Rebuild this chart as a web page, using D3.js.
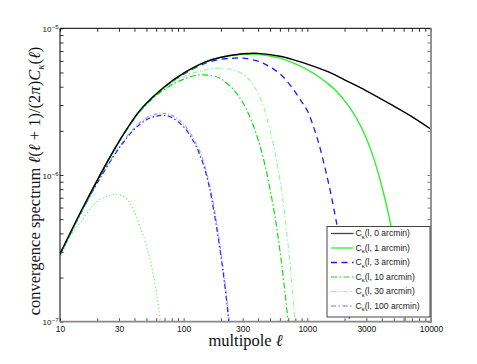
<!DOCTYPE html>
<html><head><meta charset="utf-8">
<script src="https://cdn.jsdelivr.net/npm/d3@7"></script>
<style>
html,body{margin:0;padding:0;background:#fff;}
svg{display:block;}
</style></head>
<body>
<svg id="chart" width="477" height="364"></svg>
<script>
// ---------- data ----------
const xTickValues = [10, 30, 100, 300, 1000, 3000, 10000];
const xTickLabels = ["10", "30", "100", "300", "1000", "3000", "10000"];
const yTickExponents = [-5, -6, -7];
const legendLabels = ["0 arcmin", "1 arcmin", "3 arcmin", "10 arcmin", "30 arcmin", "100 arcmin"];

const ell0 = [10,15,20,30,45,70,100,150,200,300,400,600,800,1000,1500,2000,3000,5000,7000,10000];
const cl0  = [2.9e-7,5.8e-7,9.2e-7,1.69e-6,2.8e-6,4.0e-6,4.95e-6,5.9e-6,6.35e-6,6.7e-6,6.75e-6,6.45e-6,6.05e-6,5.7e-6,5.02e-6,4.45e-6,3.75e-6,2.95e-6,2.5e-6,2.05e-6];

const ell1 = [10,20,30,45,70,100,150,200,300,400,600,800,1000,1250,1500,1750,2000,2200,2600,3000,3400,3900,4600,5500,6200,7000];
const cl1  = [2.9e-7,9.2e-7,1.69e-6,2.8e-6,4.0e-6,4.93e-6,5.88e-6,6.33e-6,6.65e-6,6.66e-6,6.26e-6,5.72e-6,5.22e-6,4.64e-6,4.13e-6,3.67e-6,3.21e-6,2.89e-6,2.29e-6,1.78e-6,1.34e-6,9.1e-7,5.1e-7,2.2e-7,1.04e-7,4e-8];

const ell3 = [10,20,30,45,70,100,150,200,250,300,400,500,600,750,900,1000,1200,1450,1700,2000,2200,2400];
const cl3  = [2.9e-7,9.2e-7,1.69e-6,2.79e-6,3.97e-6,4.87e-6,5.78e-6,6.15e-6,6.25e-6,6.26e-6,5.97e-6,5.45e-6,4.9e-6,3.96e-6,3.15e-6,2.74e-6,1.79e-6,9.6e-7,5.0e-7,2.15e-7,1.0e-7,5e-8];

const ell10 = [10,20,30,45,70,100,130,170,200,250,300,350,400,450,500,550,600,650,700,750];
const cl10  = [2.9e-7,9.17e-7,1.68e-6,2.75e-6,3.84e-6,4.5e-6,4.8e-6,4.75e-6,4.53e-6,3.86e-6,3.13e-6,2.39e-6,1.74e-6,1.21e-6,7.96e-7,5.07e-7,3.07e-7,1.77e-7,9.8e-8,5.2e-8];

const ell10b = [10,20,30,45,70,100,150,200,250,320,410,500,600,700,800,850];
const cl10b  = [2.88e-7,9.15e-7,1.68e-6,2.76e-6,3.9e-6,4.7e-6,5.2e-6,5.35e-6,5.2e-6,4.7e-6,3.45e-6,2.0e-6,9.3e-7,3.3e-7,9.5e-8,5e-8];

const ell30 = [10,15,20,30,40,50,60,70,80,100,120,140,160,180,200,220,240];
const cl30  = [2.85e-7,5.65e-7,8.8e-7,1.52e-6,2.05e-6,2.38e-6,2.52e-6,2.55e-6,2.47e-6,2.13e-6,1.7e-6,1.27e-6,8.5e-7,5.0e-7,2.8e-7,1.5e-7,7.5e-8];

const ell30b = [10,20,30,40,50,60,70,80,100,120,140,160,180,200,220,240];
const cl30b  = [2.85e-7,8.9e-7,1.55e-6,2.1e-6,2.45e-6,2.6e-6,2.63e-6,2.56e-6,2.22e-6,1.78e-6,1.34e-6,9.0e-7,5.4e-7,3.0e-7,1.6e-7,8e-8];

const ell100 = [10,12,15,20,25,28,32,36,40,45,50,55,60,65,70];
const cl100  = [2.67e-7,3.8e-7,4.9e-7,6.6e-7,7.25e-7,7.4e-7,7.2e-7,6.6e-7,5.6e-7,4.3e-7,3.3e-7,2.4e-7,1.6e-7,1.0e-7,6e-8];

// ---------- layout ----------
const svg = d3.select("#chart");
const L = 60, R = 431, T = 28.3, B = 321.7;
const x = d3.scaleLog().domain([10, 10000]).range([L, R]);
const y = d3.scaleLog().domain([1e-7, 1e-5]).range([B, T]);

svg.append("defs").append("clipPath").attr("id", "clip")
  .append("rect").attr("x", L).attr("y", T).attr("width", R - L).attr("height", B - T);

// ---------- series ----------
const series = [
  {ell: ell100, cl: cl100, color: "#3dff3d", width: 1.2, dash: "1,2.6"},
  {ell: ell30b, cl: cl30b, color: "#a3a3ff", width: 1.2, dash: "4,2,1,2"},
  {ell: ell30,  cl: cl30,  color: "#2a2aff", width: 1.2, dash: "5,2.5,1.5,2.5"},
  {ell: ell10b, cl: cl10b, color: "#8cff8c", width: 1.1, dash: "5,2.5,1.5,2.5"},
  {ell: ell10,  cl: cl10,  color: "#10dd10", width: 1.2, dash: "6,2.5,1.5,2.5"},
  {ell: ell3,   cl: cl3,   color: "#1a1aff", width: 1.3, dash: "6,4.5"},
  {ell: ell1,   cl: cl1,   color: "#2ef02e", width: 1.4, dash: null},
  {ell: ell0,   cl: cl0,   color: "#000000", width: 1.4, dash: null}
];

const line = d3.line().x(d => x(d[0])).y(d => y(d[1])).curve(d3.curveCatmullRom.alpha(0.5));
const gLines = svg.append("g").attr("clip-path", "url(#clip)");
series.forEach(s => {
  gLines.append("path")
    .datum(s.ell.map((e, i) => [e, s.cl[i]]))
    .attr("d", line)
    .attr("fill", "none")
    .attr("stroke", s.color)
    .attr("stroke-width", s.width)
    .attr("stroke-dasharray", s.dash);
});

// ---------- axes ----------
const xMinor = [];
for (let p = 1; p <= 4; p++) for (let m = 1; m <= 9; m++) { const v = m * Math.pow(10, p); if (v <= 10000) xMinor.push(v); }
const yMinor = [];
for (let p = -7; p <= -5; p++) for (let m = 1; m <= 9; m++) { const v = m * Math.pow(10, p); if (v <= 1.0001e-5) yMinor.push(v); }

const labelMap = new Map(xTickValues.map((v, i) => [v, xTickLabels[i]]));
const fmtX = v => { for (const [k, l] of labelMap) if (Math.abs(k - v) / k < 1e-6) return l; return ""; };

const gBottom = svg.append("g").attr("transform", `translate(0,${B})`)
  .call(d3.axisBottom(x).tickValues(xMinor).tickFormat(fmtX).tickSizeInner(-3.5).tickSizeOuter(0).tickPadding(4));
const gTop = svg.append("g").attr("transform", `translate(0,${T})`)
  .call(d3.axisTop(x).tickValues(xMinor).tickFormat("").tickSizeInner(-3.5).tickSizeOuter(0));
const gLeft = svg.append("g").attr("transform", `translate(${L},0)`)
  .call(d3.axisLeft(y).tickValues(yMinor).tickFormat("").tickSizeInner(-3.5).tickSizeOuter(0));
const gRight = svg.append("g").attr("transform", `translate(${R},0)`)
  .call(d3.axisRight(y).tickValues(yMinor).tickFormat("").tickSizeInner(-3.5).tickSizeOuter(0));

[gBottom, gTop, gLeft, gRight].forEach(g => g.select(".domain").remove());
gBottom.selectAll(".tick line").attr("stroke", "#555");
gTop.selectAll(".tick line").attr("stroke", "#333");
gLeft.selectAll(".tick line").attr("stroke", "#333");
gRight.selectAll(".tick line").attr("stroke", "#777");
gBottom.selectAll(".tick text").attr("font-family", "Liberation Sans, Arial, sans-serif").attr("font-size", 8.5).attr("fill", "#111");

// spines
svg.append("line").attr("x1", L).attr("x2", R).attr("y1", T).attr("y2", T).attr("stroke", "#000").attr("stroke-width", 1);
svg.append("line").attr("x1", L).attr("x2", L).attr("y1", T).attr("y2", B).attr("stroke", "#000").attr("stroke-width", 1);
svg.append("line").attr("x1", R).attr("x2", R).attr("y1", T).attr("y2", B + 1).attr("stroke", "#888").attr("stroke-width", 1.8);
svg.append("line").attr("x1", L).attr("x2", R + 1).attr("y1", B).attr("y2", B).attr("stroke", "#888").attr("stroke-width", 1.8);

// y tick labels 10^n
const yLab = svg.append("g").attr("font-family", "Liberation Sans, Arial, sans-serif").attr("fill", "#111");
yTickExponents.forEach(e => {
  const yy = y(Math.pow(10, e));
  yLab.append("text").attr("x", 51.5).attr("y", yy + 3.5).attr("text-anchor", "end").attr("font-size", 8).text("10");
  yLab.append("text").attr("x", 51.8).attr("y", yy + 0.5).attr("text-anchor", "start").attr("font-size", 6).text("\u2212" + Math.abs(e));
});

// axis titles
svg.append("text").attr("x", 245.5).attr("y", 346).attr("text-anchor", "middle")
  .attr("font-family", "Liberation Serif, Times New Roman, serif").attr("font-size", 16.5).attr("fill", "#111")
  .call(t => { t.append("tspan").text("multipole "); t.append("tspan").attr("font-style", "italic").text("\u2113"); });

const yt = svg.append("text").attr("transform", "translate(40,181) rotate(-90)").attr("text-anchor", "middle")
  .attr("font-family", "Liberation Serif, Times New Roman, serif").attr("font-size", 16.5).attr("fill", "#111");
yt.append("tspan").text("convergence spectrum ");
yt.append("tspan").attr("font-style", "italic").text("\u2113");
yt.append("tspan").text("(");
yt.append("tspan").attr("font-style", "italic").text("\u2113");
yt.append("tspan").text(" + 1)/(2");
yt.append("tspan").attr("font-style", "italic").text("\u03c0");
yt.append("tspan").text(")");
yt.append("tspan").attr("font-style", "italic").text("C");
yt.append("tspan").attr("font-style", "italic").attr("font-size", 11).attr("dy", 3.5).text("\u03ba");
yt.append("tspan").attr("dy", -3.5).text("(");
yt.append("tspan").attr("font-style", "italic").text("\u2113");
yt.append("tspan").text(")");

// ---------- legend ----------
const legendStyles = [
  {color: "#444444", width: 1.3, dash: null},
  {color: "#2ef02e", width: 1.3, dash: null},
  {color: "#1a1aff", width: 1.3, dash: "6,4.5"},
  {color: "#10dd10", width: 1.1, dash: "6,2.5,1.5,2.5"},
  {color: "#8cff8c", width: 1.1, dash: "5,2.5,1.5,2.5"},
  {color: "#6a6aff", width: 1.1, dash: "5,2.5,1.5,2.5"}
];
const lg = svg.append("g");
lg.append("rect").attr("x", 327).attr("y", 226.5).attr("width", 103).attr("height", 90.5)
  .attr("fill", "#fff").attr("stroke", "#444").attr("stroke-width", 1);
legendLabels.forEach((lab, i) => {
  const yy = 233.5 + i * 14.5;
  const st = legendStyles[i];
  lg.append("line").attr("x1", 331).attr("x2", 353.5).attr("y1", yy).attr("y2", yy)
    .attr("stroke", st.color).attr("stroke-width", st.width).attr("stroke-dasharray", st.dash);
  const t = lg.append("text").attr("x", 355.5).attr("y", yy + 2.5)
    .attr("font-family", "Liberation Sans, Arial, sans-serif").attr("font-size", 8.6).attr("fill", "#222");
  t.append("tspan").text("C");
  t.append("tspan").attr("font-size", 5.8).attr("dy", 2.5).text("\u03ba");
  t.append("tspan").attr("dy", -2.5).text("(l, " + lab + ")");
});
</script>
</body></html>
